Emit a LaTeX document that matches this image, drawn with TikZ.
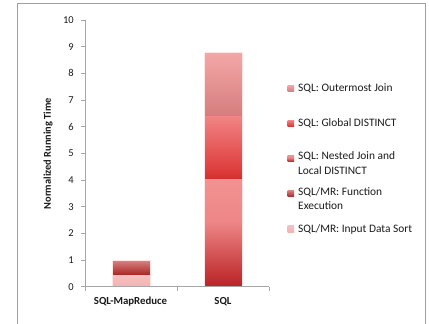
\documentclass[tikz,border=0pt]{standalone}
\usepackage{fontspec}
\setmainfont{Carlito}
\definecolor{axisgray}{HTML}{A6A6A6}
\definecolor{framegray}{HTML}{A0A0A0}
\definecolor{txt}{HTML}{1A1A1A}
% nested join
\definecolor{na}{HTML}{B92428}
\definecolor{nb}{HTML}{C23234}
\definecolor{nc}{HTML}{EE8686}
\definecolor{nd}{HTML}{F29292}
% global distinct
\definecolor{ga}{HTML}{D52E2E}
\definecolor{gb}{HTML}{DE3D3D}
\definecolor{gc}{HTML}{F28585}
% outermost
\definecolor{oa}{HTML}{D67E7E}
\definecolor{ob}{HTML}{F4A7A7}
% function execution
\definecolor{fa}{HTML}{A82626}
\definecolor{fb}{HTML}{DA8484}
% input sort
\definecolor{ia}{HTML}{F2B3B3}
\definecolor{ib}{HTML}{F6BFBF}
\pgfdeclareverticalshading{nestedsh}{100bp}{color(0bp)=(na); color(25bp)=(na); color(30bp)=(nb); color(55bp)=(nc); color(75bp)=(nd); color(100bp)=(nd)}
\pgfdeclareverticalshading{globalsh}{100bp}{color(0bp)=(ga); color(25bp)=(ga); color(32bp)=(gb); color(75bp)=(gc); color(100bp)=(gc)}
\pgfdeclareverticalshading{outersh}{100bp}{color(0bp)=(oa); color(25bp)=(oa); color(75bp)=(ob); color(100bp)=(ob)}
\pgfdeclareverticalshading{funcsh}{100bp}{color(0bp)=(fa); color(25bp)=(fa); color(75bp)=(fb); color(100bp)=(fb)}
\pgfdeclareverticalshading{inputsh}{100bp}{color(0bp)=(ia); color(25bp)=(ia); color(75bp)=(ib); color(100bp)=(ib)}
\tikzset{
  ticklab/.style={anchor=east, font=\fontsize{10.5}{12}\selectfont, text=txt, inner sep=0pt},
  catlab/.style={anchor=center, font=\fontsize{10.8}{12}\bfseries\selectfont, text=txt, inner sep=0pt},
  ylabstyle/.style={anchor=center, font=\fontsize{10.4}{12}\bfseries\selectfont, text=txt, inner sep=0pt},
  leglab/.style={anchor=west, font=\fontsize{11.4}{14.8}\selectfont, text=txt, inner sep=0pt, align=left},
  legsq/.style={minimum size=6.5pt, inner sep=0pt, anchor=west},
  axisline/.style={draw=axisgray, line width=0.8pt},
  baredge/.style={draw=white!60!pink, line width=0.5pt}
}
\begin{document}
\begin{tikzpicture}[x=1pt,y=-1pt]
\useasboundingbox (0,0) rectangle (429,324);
% frame
\draw[framegray, line width=0.8pt] (17.5,324) -- (17.5,3.5) -- (425.5,3.5) -- (425.5,324);
% bars: y(v) = 286.7 - 26.67 v
% SQL-MapReduce
\shade[shading=inputsh] (112,286.7) rectangle (150,274.7);
\shade[shading=funcsh] (112,274.7) rectangle (150,260.0);
% SQL
\shade[shading=nestedsh] (204,286.7) rectangle (242,178.7);
\shade[shading=globalsh] (204,178.7) rectangle (242,115.2);
\shade[shading=outersh] (204,115.2) rectangle (242,52.3);
\draw[baredge] (204,286.7) -- (204,52.3) -- (242,52.3) -- (242,286.7);
\draw[baredge] (112,286.7) -- (112,260.0) -- (150,260.0) -- (150,286.7);
% axes
\coordinate (yb) at (85,286.7);
\coordinate (yt) at (85,20);
\coordinate (xr) at (269,286.7);
\draw[axisline] (yt) -- (yb) -- (xr);
\foreach \v in {0,...,10} {
  \draw[axisline] (81,286.7-26.67*\v) -- (85,286.7-26.67*\v);
  \node[ticklab] (t\v) at (74,286.7-26.67*\v) {\v};
}
\foreach \xx in {85,177,269} {
  \draw[axisline] (\xx,286.7) -- (\xx,290.7);
}
\node[catlab] (c1) at (130.5,302) {SQL-MapReduce};
\node[catlab] (c2) at (223,302) {SQL};
\node[ylabstyle, rotate=90] (ylab) at (48,153.5) {Normalized Running Time};
% legend
\node[legsq, shading=outersh] (s1) at (287.5,88.3) {};
\node[leglab] (l1) at (298,88.3) {SQL: Outermost Join};
\node[legsq, shading=globalsh] (s2) at (287.5,123.3) {};
\node[leglab] (l2) at (298,123.3) {SQL: Global DISTINCT};
\node[legsq, shading=nestedsh] (s3) at (287.5,158.3) {};
\node[leglab, anchor=north west] (l3) at (298,151.8) {SQL: Nested Join and\\Local DISTINCT};
\node[legsq, shading=funcsh] (s4) at (287.5,193.5) {};
\node[leglab, anchor=north west] (l4) at (298,187.0) {SQL/MR: Function\\Execution};
\node[legsq, shading=inputsh] (s5) at (287.5,229) {};
\node[leglab] (l5) at (298,229) {SQL/MR: Input Data Sort};
\end{tikzpicture}
\end{document}
